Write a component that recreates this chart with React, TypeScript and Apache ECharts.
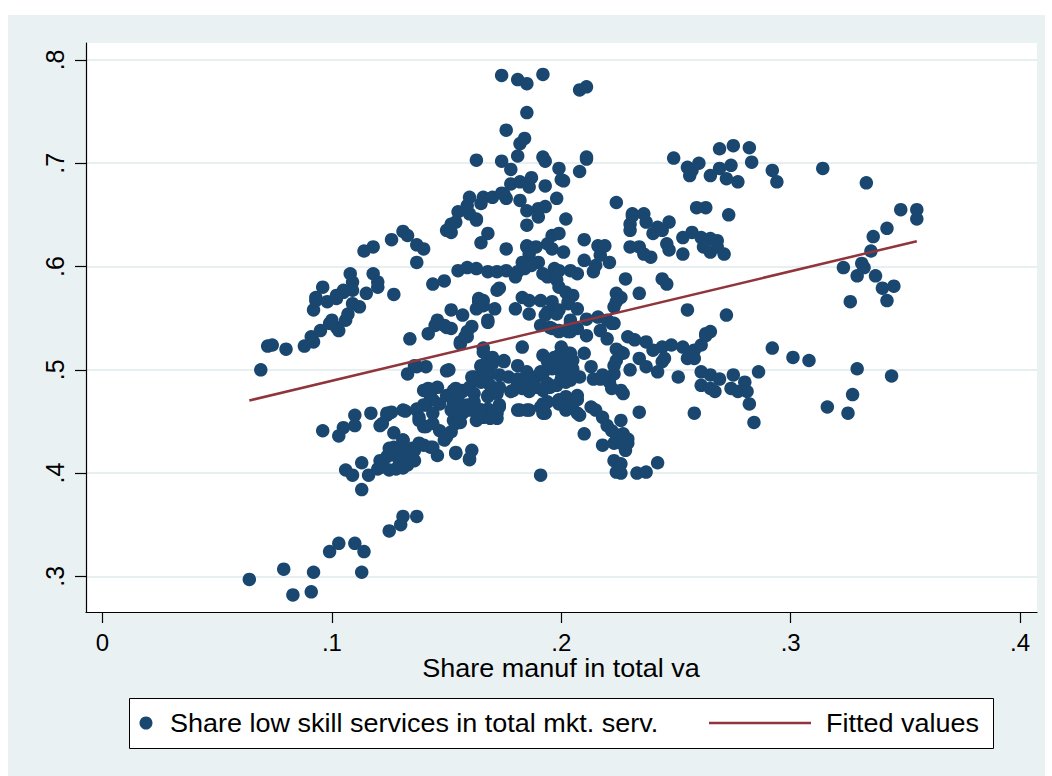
import { useEffect, useRef } from 'react';
import * as echarts from 'echarts';

// Scatter observations: [share manuf in total va, share low skill services]
const tailPts = [
  [0.064, 0.297], [0.079, 0.307], [0.083, 0.282], [0.092, 0.304], [0.091, 0.285], [0.113, 0.304],
  [0.099, 0.324], [0.103, 0.332], [0.110, 0.332], [0.114, 0.324], [0.125, 0.344], [0.130, 0.350],
  [0.131, 0.358], [0.137, 0.358],
];

const lowerLeftPts = [
  [0.096, 0.441], [0.103, 0.436], [0.105, 0.444], [0.110, 0.446], [0.110, 0.456], [0.117, 0.458],
  [0.121, 0.446], [0.125, 0.458], [0.127, 0.439], [0.132, 0.460], [0.106, 0.403], [0.109, 0.398],
  [0.113, 0.410], [0.116, 0.398], [0.113, 0.384], [0.122, 0.409], [0.125, 0.419], [0.130, 0.425],
  [0.131, 0.432], [0.136, 0.422], [0.138, 0.429], [0.143, 0.425], [0.146, 0.417], [0.154, 0.420],
  [0.161, 0.422], [0.160, 0.413], [0.120, 0.404], [0.125, 0.403], [0.128, 0.404], [0.133, 0.408],
  [0.136, 0.412], [0.127, 0.425], [0.133, 0.416], [0.140, 0.445], [0.144, 0.448], [0.138, 0.454],
  [0.149, 0.432], [0.152, 0.440], [0.154, 0.448], [0.147, 0.441], [0.153, 0.461], [0.157, 0.458],
  [0.160, 0.461], [0.166, 0.458], [0.172, 0.458], [0.163, 0.451], [0.169, 0.453], [0.124, 0.458],
  [0.126, 0.459], [0.137, 0.462], [0.141, 0.466], [0.147, 0.467], [0.144, 0.458], [0.131, 0.432],
  [0.125, 0.424], [0.130, 0.424], [0.135, 0.424], [0.124, 0.416], [0.129, 0.414], [0.134, 0.412],
  [0.131, 0.405], [0.140, 0.427], [0.144, 0.425], [0.154, 0.419], [0.160, 0.414], [0.150, 0.435],
  [0.153, 0.451], [0.156, 0.449], [0.156, 0.462], [0.159, 0.466], [0.153, 0.467], [0.152, 0.461],
  [0.121, 0.412], [0.122, 0.406], [0.131, 0.461], [0.124, 0.456], [0.122, 0.448],
];

const midLeftPts = [
  [0.133, 0.496], [0.137, 0.503], [0.141, 0.503], [0.150, 0.499], [0.143, 0.480], [0.146, 0.483],
  [0.150, 0.475], [0.153, 0.480], [0.157, 0.480], [0.162, 0.493], [0.166, 0.499], [0.168, 0.475],
  [0.140, 0.480], [0.142, 0.482], [0.143, 0.474], [0.144, 0.471], [0.140, 0.466], [0.137, 0.461],
  [0.138, 0.451], [0.141, 0.445], [0.155, 0.474], [0.157, 0.479], [0.154, 0.482], [0.136, 0.504],
  [0.151, 0.500], [0.161, 0.493], [0.165, 0.504], [0.168, 0.511], [0.170, 0.512], [0.175, 0.509],
  [0.181, 0.504], [0.185, 0.498], [0.160, 0.483], [0.162, 0.477], [0.162, 0.469], [0.165, 0.461],
  [0.168, 0.474], [0.173, 0.466], [0.172, 0.453], [0.168, 0.462], [0.166, 0.454],
];

const corePts = [
  [0.169, 0.496], [0.173, 0.495], [0.177, 0.493], [0.181, 0.491], [0.185, 0.490], [0.189, 0.493],
  [0.192, 0.496], [0.194, 0.487], [0.189, 0.483], [0.183, 0.482], [0.179, 0.480], [0.173, 0.483],
  [0.169, 0.485], [0.165, 0.488], [0.172, 0.477], [0.178, 0.479], [0.186, 0.479], [0.192, 0.480],
  [0.195, 0.483], [0.198, 0.485], [0.200, 0.491], [0.202, 0.496], [0.181, 0.461], [0.185, 0.461],
  [0.192, 0.467], [0.192, 0.458], [0.199, 0.471], [0.202, 0.474], [0.205, 0.467], [0.207, 0.458],
  [0.207, 0.475], [0.202, 0.488], [0.191, 0.398], [0.165, 0.503], [0.170, 0.506], [0.175, 0.508],
  [0.181, 0.487], [0.192, 0.514], [0.197, 0.512], [0.200, 0.522], [0.196, 0.540], [0.199, 0.538],
  [0.204, 0.537], [0.207, 0.540], [0.203, 0.516], [0.205, 0.509], [0.197, 0.503], [0.199, 0.500],
  [0.202, 0.498], [0.205, 0.501], [0.201, 0.493], [0.204, 0.490], [0.208, 0.493], [0.202, 0.509],
  [0.204, 0.516], [0.199, 0.514], [0.198, 0.506], [0.194, 0.508], [0.196, 0.501], [0.191, 0.498],
  [0.207, 0.471], [0.208, 0.456], [0.202, 0.461], [0.199, 0.467], [0.194, 0.469], [0.191, 0.464],
  [0.193, 0.458], [0.186, 0.461], [0.182, 0.461], [0.173, 0.464], [0.168, 0.456], [0.165, 0.461],
];

const upperLeftPts = [
  [0.069, 0.500], [0.072, 0.523], [0.074, 0.524], [0.080, 0.520], [0.088, 0.523], [0.092, 0.527],
  [0.091, 0.532], [0.095, 0.538], [0.093, 0.567], [0.092, 0.558], [0.096, 0.580], [0.098, 0.566],
  [0.099, 0.545], [0.102, 0.541], [0.102, 0.569], [0.105, 0.575], [0.108, 0.593], [0.109, 0.585],
  [0.107, 0.554], [0.109, 0.564], [0.112, 0.561], [0.109, 0.577], [0.103, 0.538], [0.100, 0.548],
  [0.106, 0.548], [0.115, 0.574], [0.118, 0.593], [0.120, 0.585], [0.120, 0.580], [0.127, 0.573],
  [0.114, 0.615], [0.118, 0.619], [0.126, 0.626], [0.131, 0.634], [0.133, 0.630], [0.137, 0.621],
  [0.140, 0.617], [0.137, 0.604], [0.134, 0.530], [0.144, 0.583], [0.149, 0.586], [0.152, 0.558],
  [0.157, 0.553], [0.146, 0.548], [0.150, 0.541], [0.142, 0.535], [0.156, 0.525], [0.159, 0.532],
  [0.161, 0.542], [0.168, 0.548], [0.163, 0.559], [0.166, 0.562], [0.171, 0.559], [0.164, 0.569],
  [0.172, 0.577], [0.105, 0.577], [0.102, 0.572], [0.093, 0.570], [0.145, 0.543], [0.149, 0.543],
  [0.152, 0.540], [0.156, 0.527], [0.158, 0.532], [0.159, 0.537], [0.168, 0.546], [0.166, 0.521],
  [0.166, 0.517], [0.183, 0.522],
];

const upperCenterPts = [
  [0.155, 0.596], [0.159, 0.599], [0.163, 0.598], [0.168, 0.595], [0.172, 0.595], [0.176, 0.596],
  [0.181, 0.595], [0.184, 0.598], [0.173, 0.579], [0.180, 0.590], [0.183, 0.570], [0.166, 0.567],
  [0.164, 0.566], [0.174, 0.785], [0.181, 0.781], [0.185, 0.777], [0.192, 0.786], [0.208, 0.771],
  [0.211, 0.774], [0.185, 0.749], [0.176, 0.732], [0.182, 0.719], [0.184, 0.724], [0.181, 0.707],
  [0.163, 0.703], [0.174, 0.702], [0.178, 0.694], [0.178, 0.680], [0.182, 0.682], [0.182, 0.664],
  [0.185, 0.654], [0.185, 0.640], [0.176, 0.617], [0.185, 0.619], [0.160, 0.667], [0.166, 0.667],
  [0.170, 0.667], [0.175, 0.670], [0.176, 0.666], [0.159, 0.659], [0.165, 0.661], [0.155, 0.653],
  [0.160, 0.651], [0.163, 0.646], [0.152, 0.641], [0.150, 0.635], [0.152, 0.633], [0.168, 0.632],
  [0.165, 0.623], [0.154, 0.643], [0.163, 0.645], [0.192, 0.706], [0.193, 0.702], [0.211, 0.706],
  [0.211, 0.704], [0.199, 0.695], [0.208, 0.692], [0.200, 0.684], [0.201, 0.683], [0.187, 0.686],
  [0.186, 0.677], [0.193, 0.678], [0.174, 0.671], [0.198, 0.666], [0.190, 0.656], [0.193, 0.658],
  [0.224, 0.662], [0.231, 0.651], [0.202, 0.646], [0.190, 0.648], [0.196, 0.630], [0.199, 0.632],
  [0.185, 0.620], [0.189, 0.619], [0.186, 0.612], [0.194, 0.622], [0.196, 0.617], [0.201, 0.614],
  [0.190, 0.604], [0.187, 0.601], [0.183, 0.604], [0.192, 0.593], [0.194, 0.590], [0.197, 0.598],
  [0.199, 0.596], [0.204, 0.596], [0.207, 0.593], [0.198, 0.587], [0.199, 0.580], [0.202, 0.575],
  [0.205, 0.572], [0.186, 0.567], [0.191, 0.567], [0.196, 0.566], [0.180, 0.559], [0.186, 0.554],
  [0.194, 0.556], [0.199, 0.558], [0.203, 0.566], [0.191, 0.543], [0.195, 0.541], [0.204, 0.548],
  [0.211, 0.549], [0.216, 0.551], [0.220, 0.548], [0.223, 0.545], [0.210, 0.626], [0.216, 0.620],
  [0.219, 0.620], [0.217, 0.611], [0.221, 0.604], [0.210, 0.606], [0.214, 0.595], [0.215, 0.601],
  [0.228, 0.588], [0.224, 0.574], [0.226, 0.570], [0.223, 0.561], [0.234, 0.574], [0.193, 0.553],
  [0.198, 0.554], [0.203, 0.564], [0.207, 0.559], [0.199, 0.537], [0.204, 0.545], [0.203, 0.537],
  [0.211, 0.533], [0.217, 0.538], [0.220, 0.530], [0.222, 0.545], [0.224, 0.566],
];

const rightPts = [
  [0.249, 0.705], [0.255, 0.696], [0.257, 0.693], [0.260, 0.700], [0.256, 0.688], [0.265, 0.688],
  [0.269, 0.714], [0.275, 0.717], [0.269, 0.695], [0.274, 0.698], [0.272, 0.685], [0.277, 0.682],
  [0.282, 0.715], [0.283, 0.701], [0.292, 0.693], [0.294, 0.682], [0.259, 0.657], [0.263, 0.657],
  [0.273, 0.650], [0.231, 0.649], [0.236, 0.651], [0.230, 0.641], [0.230, 0.635], [0.237, 0.643],
  [0.242, 0.638], [0.247, 0.643], [0.240, 0.632], [0.244, 0.635], [0.253, 0.628], [0.257, 0.633],
  [0.261, 0.628], [0.265, 0.627], [0.268, 0.625], [0.230, 0.619], [0.234, 0.619], [0.239, 0.609],
  [0.236, 0.612], [0.246, 0.622], [0.247, 0.616], [0.253, 0.612], [0.262, 0.619], [0.265, 0.614],
  [0.268, 0.619], [0.271, 0.612], [0.244, 0.588], [0.246, 0.583], [0.255, 0.558], [0.272, 0.553],
  [0.314, 0.695], [0.333, 0.681], [0.348, 0.655], [0.355, 0.655], [0.355, 0.646], [0.342, 0.637],
  [0.336, 0.629], [0.335, 0.615], [0.323, 0.599], [0.331, 0.603], [0.332, 0.599], [0.329, 0.591],
  [0.337, 0.591], [0.340, 0.579], [0.345, 0.581], [0.342, 0.567], [0.326, 0.566], [0.292, 0.521],
  [0.301, 0.512], [0.308, 0.509], [0.329, 0.501], [0.344, 0.494], [0.327, 0.476], [0.316, 0.464],
  [0.325, 0.458], [0.229, 0.532], [0.232, 0.529], [0.237, 0.527], [0.240, 0.519], [0.224, 0.520],
  [0.226, 0.517], [0.244, 0.522], [0.248, 0.524], [0.253, 0.522], [0.258, 0.519], [0.261, 0.524],
  [0.263, 0.533], [0.265, 0.537], [0.263, 0.535], [0.255, 0.511], [0.258, 0.511], [0.234, 0.511],
  [0.237, 0.503], [0.242, 0.498], [0.244, 0.508], [0.245, 0.511], [0.230, 0.500], [0.251, 0.493],
  [0.261, 0.498], [0.265, 0.495], [0.269, 0.491], [0.275, 0.495], [0.280, 0.488], [0.286, 0.498],
  [0.261, 0.485], [0.265, 0.482], [0.267, 0.479], [0.274, 0.482], [0.277, 0.479], [0.281, 0.479],
  [0.282, 0.467], [0.284, 0.449], [0.258, 0.458], [0.234, 0.459], [0.210, 0.438], [0.218, 0.427],
  [0.223, 0.429], [0.226, 0.429], [0.229, 0.429], [0.228, 0.422], [0.223, 0.412], [0.226, 0.409],
  [0.224, 0.401], [0.226, 0.400], [0.233, 0.400], [0.237, 0.401], [0.242, 0.410], [0.226, 0.451],
  [0.227, 0.438], [0.229, 0.433], [0.213, 0.464], [0.215, 0.461], [0.218, 0.454], [0.220, 0.446],
  [0.222, 0.441], [0.224, 0.437], [0.222, 0.482], [0.226, 0.480], [0.227, 0.477], [0.221, 0.488],
  [0.223, 0.496], [0.223, 0.504], [0.224, 0.509], [0.227, 0.516], [0.210, 0.516], [0.213, 0.503],
  [0.214, 0.491], [0.217, 0.491], [0.218, 0.495],
];

// Linear fit drawn between its two end points
const fitX = [0.064, 0.355];
const fitY = [0.4703, 0.6245];

const xTicks = [0, 0.1, 0.2, 0.3, 0.4];
const yTicks = [0.3, 0.4, 0.5, 0.6, 0.7, 0.8];

const xTitle = 'Share manuf in total va';
const scatterLabel = 'Share low skill services in total mkt. serv.';
const fitLabel = 'Fitted values';

const NAVY = '#1a476f';
const MAROON = '#90353b';
const FONT = '"Liberation Sans", Arial, Helvetica, sans-serif';
const WIDE = 1.08; // horizontal stretch applied to the title and legend texts

const tickFmt = (v: number) => (Math.abs(v) < 1e-9 ? '0' : v.toFixed(1).replace(/^0/, ''));

export default function App() {
  const ref = useRef<HTMLDivElement>(null);

  useEffect(() => {
    if (!ref.current) return;
    const chart = echarts.init(ref.current, null, { renderer: 'svg' });
    const points = [...tailPts, ...lowerLeftPts, ...midLeftPts, ...corePts, ...upperLeftPts, ...upperCenterPts, ...rightPts];
    const legendY = 723;

    chart.setOption({
      animation: false,
      textStyle: { fontFamily: FONT },
      grid: {
        left: 86,
        top: 43,
        right: 15,
        bottom: 164,
        show: true,
        backgroundColor: '#ffffff',
        borderWidth: 0,
      },
      xAxis: {
        type: 'value',
        min: -0.0072,
        max: 0.4074,
        axisLine: { show: true, onZero: false, lineStyle: { color: '#000', width: 1.2 } },
        axisTick: { show: true, length: 11, customValues: xTicks, lineStyle: { color: '#000', width: 1.2 } },
        axisLabel: { customValues: xTicks, formatter: tickFmt, fontSize: 24, color: '#000', margin: 18, fontFamily: FONT },
        splitLine: { show: false },
      },
      yAxis: {
        type: 'value',
        min: 0.2655,
        max: 0.8164,
        axisLine: { show: true, onZero: false, lineStyle: { color: '#000', width: 1.2 } },
        axisTick: { show: true, length: 11, customValues: yTicks, lineStyle: { color: '#000', width: 1.2 } },
        axisLabel: { customValues: yTicks, formatter: tickFmt, rotate: 90, fontSize: 25, color: '#000', margin: 19, fontFamily: FONT },
        splitLine: { show: true, lineStyle: { color: '#e8eff1', width: 2 } },
      },
      series: [
        {
          type: 'scatter',
          data: points,
          symbol: 'circle',
          symbolSize: 13.5,
          itemStyle: { color: NAVY, opacity: 1 },
          z: 2,
        },
        {
          type: 'line',
          data: fitX.map((x, i) => [x, fitY[i]]),
          symbol: 'none',
          lineStyle: { color: MAROON, width: 2.5 },
          z: 3,
        },
      ],
      graphic: [
        {
          type: 'text',
          x: 561,
          y: 668,
          scaleX: WIDE,
          style: { text: xTitle, fontSize: 25, fill: '#000', align: 'center', verticalAlign: 'middle', fontFamily: FONT },
        },
        {
          type: 'rect',
          shape: { x: 129.5, y: 698.5, width: 864, height: 50 },
          style: { fill: '#fff', stroke: '#000', lineWidth: 1 },
        },
        {
          type: 'circle',
          shape: { cx: 146, cy: legendY, r: 6.5 },
          style: { fill: NAVY },
        },
        {
          type: 'text',
          x: 170,
          y: legendY,
          scaleX: WIDE,
          style: { text: scatterLabel, fontSize: 25, fill: '#000', verticalAlign: 'middle', fontFamily: FONT },
        },
        {
          type: 'line',
          shape: { x1: 709, y1: legendY, x2: 811, y2: legendY },
          style: { stroke: MAROON, lineWidth: 2.5 },
        },
        {
          type: 'text',
          x: 826,
          y: legendY,
          scaleX: WIDE,
          style: { text: fitLabel, fontSize: 25, fill: '#000', verticalAlign: 'middle', fontFamily: FONT },
        },
      ],
    });

    return () => chart.dispose();
  }, []);

  return (
    <div style={{ position: 'fixed', left: 0, top: 0, width: 1052, height: 776, background: '#ffffff' }}>
      <div style={{ position: 'absolute', left: 8, top: 15, width: 1037, height: 761, background: '#eaf1f3' }} />
      <div ref={ref} style={{ position: 'absolute', left: 0, top: 0, width: 1052, height: 776 }} />
    </div>
  );
}
